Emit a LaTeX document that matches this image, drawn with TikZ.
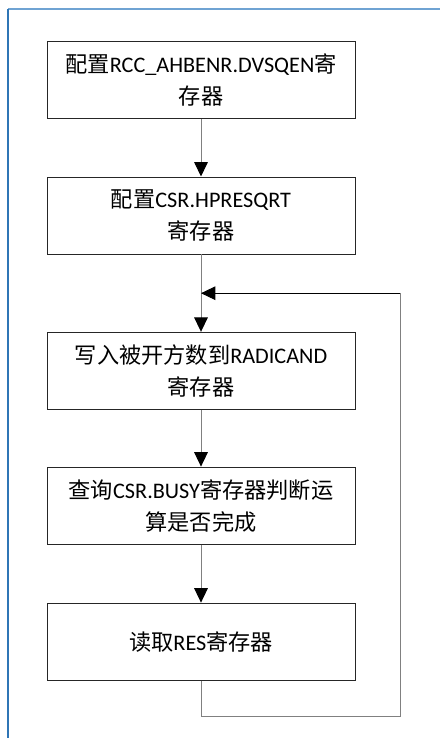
\documentclass[tikz,border=0pt]{standalone}
\usepackage{fontspec}
\setmainfont{Carlito}
\newfontfamily\cjk{Noto Sans CJK SC}
\usepackage{tikz}
\usetikzlibrary{calc, arrows.meta}
\usepackage{xcolor}
\definecolor{framedark}{HTML}{2F75B5}
\definecolor{framelight}{HTML}{6FA3D3}

\tikzset{
    procbox/.style={draw=black!85, line width=0.7pt, minimum width=7.7cm,
        minimum height=1.925cm, inner sep=0pt, align=center,
        font=\fontsize{15.8pt}{22.8pt}\selectfont},
    flowline/.style={draw=black!50, line width=0.7pt},
    flowarrow/.style={flowline, -{Triangle[length=0.36cm, width=0.34cm, color=black]}}
}

\begin{document}
\begin{tikzpicture}

    % 1. Fix the page and draw the visible part of the frame
    \useasboundingbox (0,0) rectangle (11,-18.45);
    \draw[framelight, line width=0.8pt] (0.2,-0.225) -- (11,-0.225);
    \draw[framedark, line width=0.8pt] (0.2,-0.225) -- (0.2,-18.45);

    % 2. The five steps, one below the other
    \node[procbox] (cfgen) at (5.025,-2.0075)
        {{\cjk 配置}RCC\_AHBENR.DVSQEN{\cjk 寄}\\{\cjk 存器}};
    \node[procbox] (cfgcsr) at (5.025,-5.3875)
        {{\cjk 配置}CSR.HPRESQRT\\{\cjk 寄存器}};
    \node[procbox] (wrrad) at (5.025,-9.27)
        {{\cjk 写入被开方数到}RADICAND\\{\cjk 寄存器}};
    \node[procbox] (chkbusy) at (5.025,-12.64)
        {{\cjk 查询}CSR.BUSY{\cjk 寄存器判断运}\\{\cjk 算是否完成}};
    \node[procbox] (rdres) at (5.025,-16.04)
        {{\cjk 读取}RES{\cjk 寄存器}};

    % 3. Points of the loop back
    \coordinate (join) at (5.025,-7.33);
    \coordinate (loopbr) at (10,-17.91);
    \coordinate (looptr) at (10,-7.33);

    % 4. Arrows down the chain
    \draw[flowarrow] (cfgen) -- (cfgcsr);
    \draw[flowarrow] (cfgcsr) -- (wrrad);
    \draw[flowarrow] (wrrad) -- (chkbusy);
    \draw[flowarrow] (chkbusy) -- (rdres);

    % 5. Loop from the last step back above the write step
    \draw[flowline] (rdres.south) |- (loopbr) -- (looptr);
    \draw[flowarrow, draw=black] (looptr) -- (join);
\end{tikzpicture}
\end{document}
